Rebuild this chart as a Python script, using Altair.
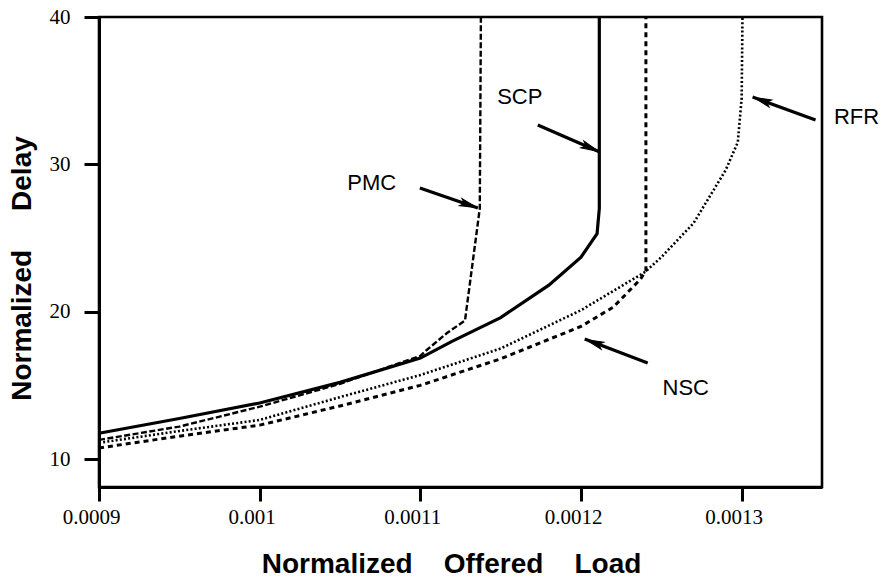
import math
import altair as alt
import pandas as pd

# Normalized offered load (x) and normalized delay (y) for each protocol
scp_load = [0.0009, 0.00095, 0.001, 0.00105, 0.0011, 0.00112, 0.00115, 0.00118,
            0.0012, 0.00121, 0.0012114, 0.0012114]
scp_delay = [11.75, 12.75, 13.8, 15.2, 16.85, 18.0, 19.6, 21.8, 23.7, 25.3, 27.0, 40.0]

pmc_load = [0.0009, 0.00095, 0.001, 0.00105, 0.0011, 0.001104, 0.0011166, 0.0011278,
            0.001137, 0.0011377]
pmc_delay = [11.3, 12.2, 13.55, 15.1, 17.0, 17.4, 18.55, 19.4, 27.0, 40.0]

nsc_load = [0.0009, 0.00095, 0.001, 0.00105, 0.0011, 0.00115, 0.0012, 0.00122,
            0.001237, 0.0012404, 0.0012404]
nsc_delay = [10.75, 11.55, 12.3, 13.6, 15.0, 16.8, 19.0, 20.3, 22.2, 22.8, 40.0]

rfr_load = [0.0009, 0.00095, 0.001, 0.00105, 0.0011, 0.00115, 0.0012, 0.00124,
            0.00125, 0.00127, 0.00128, 0.00129, 0.0012976, 0.0013, 0.0013005]
rfr_delay = [11.1, 11.9, 12.65, 14.2, 15.7, 17.5, 20.1, 22.7, 23.7, 26.0, 27.8,
             29.6, 31.5, 34.5, 40.0]

# Axis ticks
x_ticks = [0.0009, 0.001, 0.0011, 0.0012, 0.0013]
y_ticks = [10, 20, 30, 40]

# Curve labels with their callout arrows (label centre, arrow tail, arrow tip)
label_names = ["PMC", "SCP", "NSC", "RFR"]
label_load = [0.0010698, 0.0011619, 0.0012652, 0.0013715]
label_delay = [28.73, 34.57, 14.82, 33.21]
arrow_tail_load = [0.0010997, 0.0011731, 0.0012415, 0.0013460]
arrow_tail_delay = [28.39, 32.67, 16.52, 33.01]
arrow_tip_load = [0.0011358, 0.0012117, 0.0012023, 0.0013068]
arrow_tip_delay = [27.04, 30.84, 18.14, 34.57]

X_DOMAIN = [0.0009, 0.00135]
Y_DOMAIN = [8.1, 40]
W, H = 723, 470

x_axis = alt.Axis(
    values=x_ticks, format="~g", grid=False, labelFlush=False,
    tickSize=14, tickWidth=3, tickColor="black",
    domainColor="black", domainWidth=3,
    labelFont="Liberation Serif", labelFontSize=21, labelColor="black",
    labelPadding=5, labelOffset=-8,
    title="Normalized\u00a0\u00a0\u00a0\u00a0Offered\u00a0\u00a0\u00a0\u00a0Load",
    titleFont="Liberation Sans", titleFontSize=28, titleFontWeight="bold",
    titleColor="black", titleX=352, titleY=85, titleAlign="center",
    titleBaseline="alphabetic",
)
y_axis = alt.Axis(
    values=y_ticks, grid=False,
    tickSize=15, tickWidth=3, tickColor="black",
    domainColor="black", domainWidth=3,
    labelFont="Liberation Serif", labelFontSize=21, labelColor="black",
    labelPadding=14, labelBaseline="middle",
    title="Normalized\u00a0\u00a0\u00a0\u00a0\u00a0Delay",
    titleFont="Liberation Sans", titleFontSize=28, titleFontWeight="bold",
    titleColor="black", titleX=-77, titleY=251, titleAngle=270,
    titleAlign="center", titleBaseline="middle",
)

x_enc = alt.X("load:Q", scale=alt.Scale(domain=X_DOMAIN, nice=False, zero=False), axis=x_axis)
y_enc = alt.Y("delay:Q", scale=alt.Scale(domain=Y_DOMAIN, nice=False, zero=False), axis=y_axis)

series = [
    ("SCP", scp_load, scp_delay, 3.2, None),
    ("PMC", pmc_load, pmc_delay, 2.4, [6, 2.5]),
    ("NSC", nsc_load, nsc_delay, 3.0, [5, 4]),
    ("RFR", rfr_load, rfr_delay, 2.6, [2, 2.2]),
]

layers = []
for name, xs, ys, width, dash in series:
    df = pd.DataFrame({"load": xs, "delay": ys, "i": range(len(xs))})
    kw = dict(color="black", strokeWidth=width)
    if dash:
        kw["strokeDash"] = dash
    layers.append(
        alt.Chart(df).mark_line(**kw).encode(x=x_enc, y=y_enc, order="i:Q")
    )

# Arrow shafts
arrows = pd.DataFrame({
    "load": arrow_tail_load, "delay": arrow_tail_delay,
    "load_end": arrow_tip_load, "delay_end": arrow_tip_delay,
})
layers.append(
    alt.Chart(arrows).mark_rule(color="black", strokeWidth=3.2).encode(
        x=x_enc, y=y_enc, x2="load_end:Q", y2="delay_end:Q"
    )
)

# Arrow heads: a barbed wedge set just behind each tip, turned along the shaft
px_x = W / (X_DOMAIN[1] - X_DOMAIN[0])
px_y = H / (Y_DOMAIN[1] - Y_DOMAIN[0])
head_load, head_delay, head_angle = [], [], []
for tx, ty, hx, hy in zip(arrow_tail_load, arrow_tail_delay, arrow_tip_load, arrow_tip_delay):
    dx = (hx - tx) * px_x
    dy = -(hy - ty) * px_y
    head_angle.append(math.degrees(math.atan2(dx, -dy)) % 360)
    f = 0.15
    head_load.append(hx + (tx - hx) * f)
    head_delay.append(hy + (ty - hy) * f)
heads = pd.DataFrame({"load": head_load, "delay": head_delay, "rot": head_angle})
ARROW_PATH = "M0,-1L0.42,1L0,0.55L-0.42,1Z"
layers.append(
    alt.Chart(heads).mark_point(shape=ARROW_PATH, filled=True, fill="black",
                                stroke="black", strokeWidth=1,
                                opacity=1, size=320).encode(
        x=x_enc, y=y_enc, angle=alt.Angle("rot:Q", scale=None)
    )
)

# Curve labels
labels = pd.DataFrame({"load": label_load, "delay": label_delay, "name": label_names})
layers.append(
    alt.Chart(labels).mark_text(
        font="Liberation Sans", fontSize=22, color="black",
        align="center", baseline="middle",
    ).encode(x=x_enc, y=y_enc, text="name:N")
)

chart = alt.layer(*layers).properties(
    width=W, height=H,
    autosize=alt.AutoSizeParams(type="none"),
    padding={"left": 99, "top": 17, "right": 69, "bottom": 95},
    background="white",
).configure_view(stroke="black", strokeWidth=2.6)

chart.save("out.html", embed_options={"renderer": "svg", "actions": False})
